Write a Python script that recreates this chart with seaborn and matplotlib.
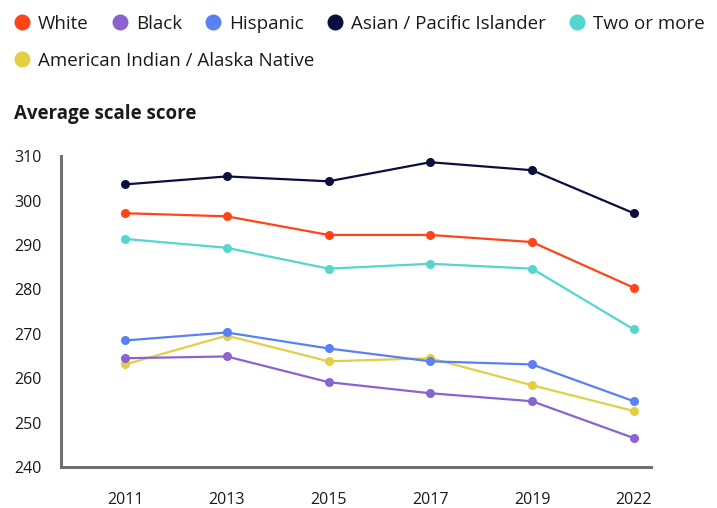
#!/usr/bin/env python3
# -*- coding: utf-8 -*-
"""
Average scale score by race/ethnicity, 2011-2022
"""

import numpy as np
import pandas as pd
import matplotlib.pyplot as plt
import seaborn as sns
from matplotlib.lines import Line2D

years = ['2011', '2013', '2015', '2017', '2019', '2022']
groups = ['White', 'Black', 'Hispanic', 'Asian / Pacific Islander',
          'Two or more', 'American Indian / Alaska Native']

white = [297.2, 296.5, 292.3, 292.3, 290.7, 280.4]
black = [264.5, 264.9, 259.1, 256.6, 254.8, 246.5]
hispanic = [268.5, 270.3, 266.7, 263.8, 263.1, 254.8]
asian = [303.7, 305.5, 304.4, 308.7, 306.9, 297.2]
two_or_more = [291.4, 289.4, 284.7, 285.8, 284.7, 271.0]
aian = [263.1, 269.6, 263.8, 264.5, 258.4, 252.6]

COLORS = {
    'White': '#FF4517',
    'Black': '#8A63D2',
    'Hispanic': '#5B80F5',
    'Asian / Pacific Islander': '#0A0F3D',
    'Two or more': '#52D6CF',
    'American Indian / Alaska Native': '#E3CF45',
}

sns.set_style('white')
plt.rcParams['font.family'] = ['Open Sans', 'DejaVu Sans']
TEXT = '#1a1a1a'

series = [white, black, hispanic, asian, two_or_more, aian]
rows = []
for g, vals in zip(groups, series):
    for y, v in zip(years, vals):
        rows.append({'year': y, 'group': g, 'score': v})
df = pd.DataFrame(rows)

fig = plt.figure(figsize=(7.17, 5.08), dpi=100)
ax = fig.add_axes([0.085, 0.081, 0.823, 0.611])

# 从后往前画，亚裔那条线放最上面
order = ['American Indian / Alaska Native', 'Black', 'Hispanic', 'Two or more',
         'White', 'Asian / Pacific Islander']
sns.lineplot(data=df, x='year', y='score', hue='group', hue_order=order,
             palette=COLORS, marker='o', markersize=6.5, markeredgewidth=0,
             linewidth=1.6, legend=False, ax=ax, sort=False)

ax.set_xlim(-0.63, 5.17)
ax.set_ylim(240, 310)
ax.set_yticks(np.arange(240, 311, 10))
ax.set_xlabel('')
ax.set_ylabel('')
for side in ['top', 'right']:
    ax.spines[side].set_visible(False)
for side in ['left', 'bottom']:
    ax.spines[side].set_color('#707070')
    ax.spines[side].set_linewidth(2.2)
ax.tick_params(axis='both', length=0, labelsize=11.5, labelcolor=TEXT)
ax.tick_params(axis='x', pad=18)
ax.tick_params(axis='y', pad=14)

fig.text(14 / 717, 1 - 114 / 508, 'Average scale score', fontsize=13.5,
         fontweight='bold', color=TEXT, va='center')

handles = [Line2D([], [], marker='o', linestyle='', markersize=11.5,
                  markerfacecolor=COLORS[g], markeredgewidth=0, label=g)
           for g in groups]
leg_kw = dict(frameon=False, fontsize=13.5, handletextpad=0.43,
              columnspacing=1.23, handlelength=0.85, labelcolor=TEXT,
              borderaxespad=0, borderpad=0)
fig.legend(handles=handles[:5], ncol=5, loc='center left',
           bbox_to_anchor=(14 / 717, 1 - 24 / 508), **leg_kw)
fig.legend(handles=handles[5:], ncol=1, loc='center left',
           bbox_to_anchor=(14 / 717, 1 - 61 / 508), **leg_kw)

plt.savefig('out.png', dpi=100)
plt.close()
